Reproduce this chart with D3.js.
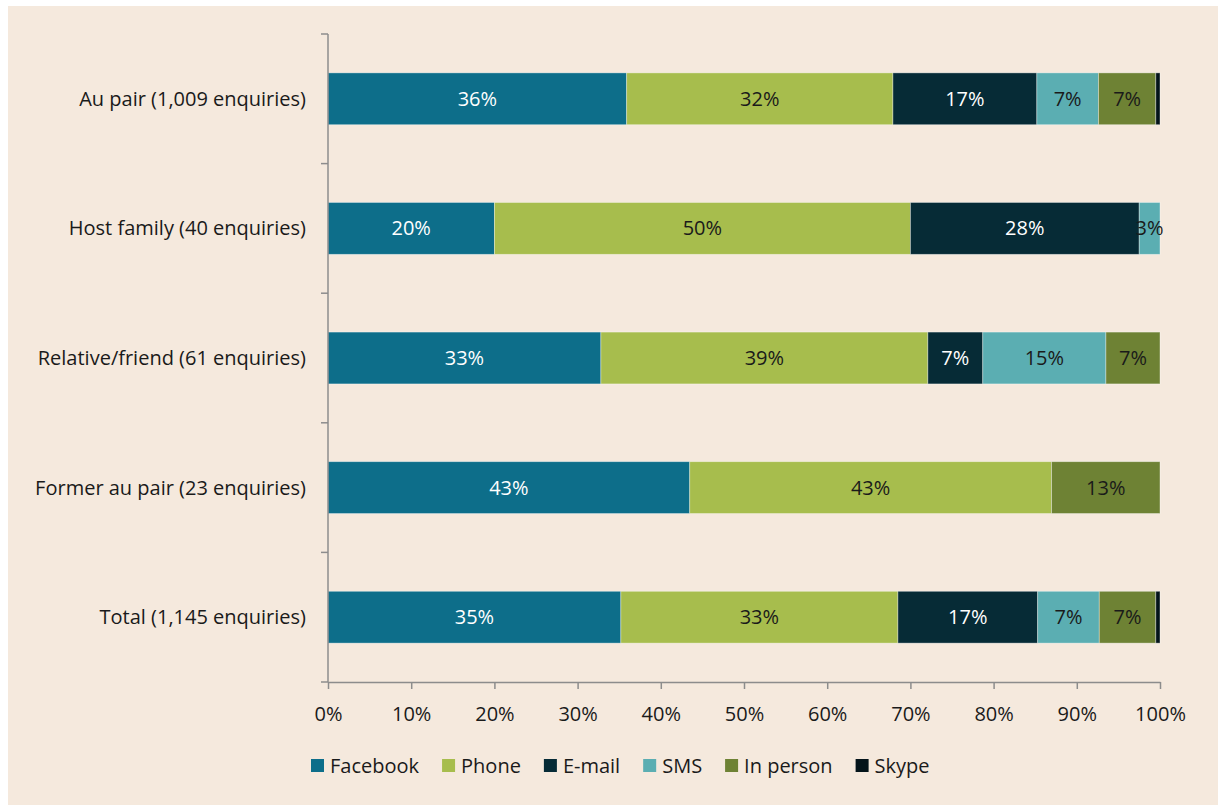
<!DOCTYPE html>
<html>
<head>
<meta charset="utf-8">
<script src="https://cdn.jsdelivr.net/npm/d3@7"></script>
<style>
  html, body { margin: 0; padding: 0; background: #ffffff; }
  svg { display: block; }
  text { font-family: "Open Sans", "Noto Sans", sans-serif; }
</style>
</head>
<body>
<svg id="chart" width="1218" height="805"></svg>
<script>
// Enquiry groups, top to bottom
const categories = [
  "Au pair (1,009 enquiries)",
  "Host family (40 enquiries)",
  "Relative/friend (61 enquiries)",
  "Former au pair (23 enquiries)",
  "Total (1,145 enquiries)"
];

// Contact channels (stack order, left to right)
const channels = ["Facebook", "Phone", "E-mail", "SMS", "In person", "Skype"];

// Share of enquiries per channel, in percent, one array per channel
const facebook = [35.9, 20.0, 32.8, 43.48, 35.2];
const phone    = [32.0, 50.0, 39.3, 43.48, 33.3];
const email    = [17.3, 27.5,  6.6,  0.0,  16.8];
const sms      = [ 7.4,  2.5, 14.8,  0.0,   7.4];
const inPerson = [ 6.9,  0.0,  6.5, 13.04,  6.8];
const skype    = [ 0.5,  0.0,  0.0,  0.0,   0.5];

const xTicks = [0, 10, 20, 30, 40, 50, 60, 70, 80, 90, 100];

const colors = ["#0d6e8a", "#a7bd4d", "#062b36", "#5baeb2", "#6e8234", "#04141a"];
const labelColors = ["#ffffff", "#1a1a1a", "#ffffff", "#1a1a1a", "#1a1a1a", "#ffffff"];

const rows = categories.map((c, i) => ({
  category: c,
  "Facebook": facebook[i],
  "Phone": phone[i],
  "E-mail": email[i],
  "SMS": sms[i],
  "In person": inPerson[i],
  "Skype": skype[i]
}));

const fontSize = 20;
const svg = d3.select("#chart");

// panel background
svg.append("rect")
  .attr("x", 8).attr("y", 6)
  .attr("width", 1218 - 8).attr("height", 805 - 6)
  .attr("fill", "#f5e9dd");

const margin = { left: 328, right: 58, top: 34, bottom: 123 };
const plotW = 1218 - margin.left - margin.right;   // 832
const plotH = 805 - margin.top - margin.bottom;     // 648

const g = svg.append("g").attr("transform", `translate(${margin.left},${margin.top})`);

const x = d3.scaleLinear().domain([0, 100]).range([0, plotW]);
const y = d3.scaleBand().domain(categories).range([0, plotH]).paddingInner(0.6).paddingOuter(0.3);
const color = d3.scaleOrdinal().domain(channels).range(colors);
const labelColor = d3.scaleOrdinal().domain(channels).range(labelColors);

const stack = d3.stack().keys(channels)(rows);

const layers = g.selectAll("g.layer")
  .data(stack)
  .join("g")
  .attr("class", "layer")
  .attr("fill", d => color(d.key));

layers.selectAll("rect")
  .data(d => d.map(v => ({ key: d.key, v0: v[0], v1: v[1], cat: v.data.category })))
  .join("rect")
  .filter(d => d.v1 - d.v0 > 0)
  .attr("x", d => x(d.v0))
  .attr("y", d => y(d.cat))
  .attr("width", d => x(d.v1) - x(d.v0))
  .attr("height", y.bandwidth())
  .attr("stroke", "rgba(255,255,255,0.45)")
  .attr("stroke-width", 0.8);

// value labels (Skype slices are too thin to carry one)
layers.selectAll("text")
  .data(d => d.map(v => ({ key: d.key, v0: v[0], v1: v[1], cat: v.data.category })))
  .join("text")
  .filter(d => d.v1 - d.v0 >= 1 && d.key !== "Skype")
  .attr("x", d => x((d.v0 + d.v1) / 2))
  .attr("y", d => y(d.cat) + y.bandwidth() / 2)
  .attr("dy", "0.35em")
  .attr("text-anchor", "middle")
  .attr("font-size", fontSize)
  .attr("fill", d => labelColor(d.key))
  .text(d => d3.format(".0f")(d.v1 - d.v0) + "%");

// axes
const axisColor = "#8c8c8c";

const xAxis = g.append("g")
  .attr("transform", `translate(0,${plotH})`)
  .call(d3.axisBottom(x).tickValues(xTicks).tickFormat(d => d + "%").tickSize(7).tickSizeOuter(0).tickPadding(18));

const yBoundaries = d3.range(categories.length + 1).map(i => i * plotH / categories.length);

const yAxisG = g.append("g");
yAxisG.append("line")
  .attr("x1", 0).attr("x2", 0).attr("y1", 0).attr("y2", plotH)
  .attr("stroke", axisColor).attr("stroke-width", 1.5);
yAxisG.selectAll("line.tick")
  .data(yBoundaries)
  .join("line")
  .attr("class", "tick")
  .attr("x1", -7).attr("x2", 0)
  .attr("y1", d => d).attr("y2", d => d)
  .attr("stroke", axisColor).attr("stroke-width", 1.5);
yAxisG.selectAll("text")
  .data(categories)
  .join("text")
  .attr("x", -22)
  .attr("y", d => y(d) + y.bandwidth() / 2)
  .attr("dy", "0.35em")
  .attr("text-anchor", "end")
  .attr("font-size", fontSize)
  .attr("fill", "#1a1a1a")
  .text(d => d);

xAxis.select(".domain").attr("stroke", axisColor).attr("stroke-width", 1.5);
xAxis.selectAll(".tick line").attr("stroke", axisColor).attr("stroke-width", 1.5);
xAxis.selectAll(".tick text").attr("font-size", fontSize).attr("fill", "#1a1a1a")
  .attr("font-family", "\"Open Sans\", \"Noto Sans\", sans-serif");

// legend
const legend = svg.append("g").attr("transform", "translate(311,759)");
let lx = 0;
const legendGap = 23;
channels.forEach((ch, i) => {
  const item = legend.append("g").attr("transform", `translate(${lx},0)`);
  item.append("rect").attr("width", 13).attr("height", 13).attr("fill", colors[i]);
  const t = item.append("text")
    .attr("x", 19).attr("y", 7).attr("dy", "0.35em")
    .attr("font-size", fontSize).attr("fill", "#1a1a1a")
    .text(ch);
  lx += 19 + t.node().getComputedTextLength() + legendGap;
});
</script>
</body>
</html>
